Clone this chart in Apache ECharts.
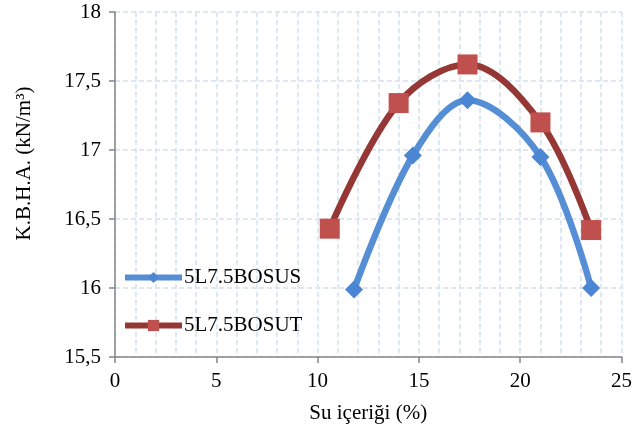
<!DOCTYPE html>
<html><head><meta charset="utf-8">
<script src="https://cdn.jsdelivr.net/npm/echarts@6/dist/echarts.min.js"></script>
<style>html,body{margin:0;padding:0;background:#fff}#c{width:635px;height:434px}</style>
</head><body><div id="c"></div>
<script>
const seriesNames = ['5L7.5BOSUS', '5L7.5BOSUT'];
const xBOSUS = [11.8, 14.7, 17.4, 21.0, 23.5];
const yBOSUS = [15.99, 16.96, 17.36, 16.95, 16.00];
const xBOSUT = [10.6, 14.0, 17.4, 21.0, 23.5];
const yBOSUT = [16.43, 17.34, 17.62, 17.20, 16.42];
const xTitle = 'Su içeriği (%)';
const yTitle = 'K.B.H.A. (kN/m³)';

const font = 'Liberation Serif';
const fs = 21;
const chart = echarts.init(document.getElementById('c'));
const pair = (xs, ys) => xs.map((x, i) => [x, ys[i]]);
chart.setOption({
  animation: false,
  grid: {left: 115, right: 13, top: 12, bottom: 77},
  legend: {
    orient: 'vertical', left: 117, top: 262,
    itemWidth: 57, itemHeight: 14, itemGap: 27,
    lineStyle: {width: 6},
    textStyle: {fontFamily: font, fontSize: fs, color: '#000', padding: [0, 0, 0, -3]},
    data: seriesNames
  },
  xAxis: {
    type: 'value', min: 0, max: 25, interval: 5,
    name: xTitle, nameLocation: 'middle', nameGap: 46,
    nameTextStyle: {fontFamily: font, fontSize: fs, color: '#000'},
    axisLine: {onZero: false, lineStyle: {color: '#868686', width: 1.5}},
    axisTick: {show: true, length: 6, lineStyle: {color: '#868686', width: 1.5}},
    axisLabel: {fontFamily: font, fontSize: fs, color: '#000', margin: 14},
    minorTick: {show: false, splitNumber: 5},
    splitLine: {show: true, lineStyle: {color: '#D5E0F0', type: [5, 3], width: 1.5}},
    minorSplitLine: {show: true, lineStyle: {color: '#D5E0F0', type: [5, 3], width: 1.5}}
  },
  yAxis: {
    type: 'value', min: 15.5, max: 18, interval: 0.5,
    name: yTitle, nameLocation: 'middle', nameGap: 80,
    nameTextStyle: {fontFamily: font, fontSize: fs, color: '#000', padding: [0, 0, 0, 42]},
    axisLine: {show: true, lineStyle: {color: '#868686', width: 1.5}},
    axisTick: {show: true, length: 6, lineStyle: {color: '#868686', width: 1.5}},
    axisLabel: {fontFamily: font, fontSize: fs, color: '#000', margin: 14,
      formatter: v => String(v).replace('.', ',')},
    splitLine: {show: true, lineStyle: {color: '#D5E0F0', type: [5, 3], width: 1.5}}
  },
  series: [
    {
      name: seriesNames[0], type: 'line', smooth: 0.35,
      data: pair(xBOSUS, yBOSUS),
      symbol: 'diamond', symbolSize: 18, showAllSymbol: true,
      lineStyle: {color: '#558ED5', width: 6.5},
      itemStyle: {color: '#4A86D4'}
    },
    {
      name: seriesNames[1], type: 'line', smooth: 0.35,
      data: pair(xBOSUT, yBOSUT),
      symbol: 'rect', symbolSize: 20, showAllSymbol: true,
      lineStyle: {color: '#953735', width: 6.5},
      itemStyle: {color: '#C0504D'}
    }
  ]
});
</script></body></html>
